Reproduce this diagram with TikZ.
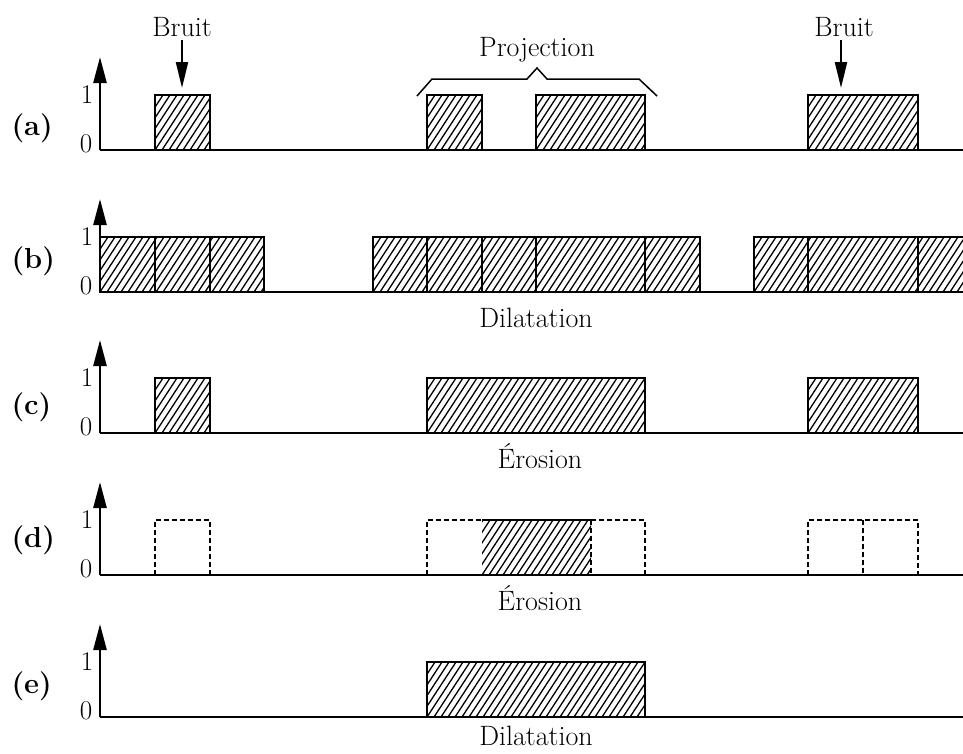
\documentclass[tikz,border=0pt]{standalone}
\usetikzlibrary{arrows.meta}
\newcommand{\hatchrect}[4]{%
  \begin{scope}
    \clip (#1,#3) rectangle (#2,#4);
    \foreach \k in {-7,...,52}{\draw[hatchline] ({#1+7*\k},#4) -- ++(36,-55);}
  \end{scope}}
\begin{document}
\begin{tikzpicture}[x=1pt,y=-1pt,
  axis/.style={line width=2.6pt,-{Triangle[width=13pt,length=26pt]}},
  baseline/.style={line width=2pt},
  boxline/.style={line width=2pt},
  dboxline/.style={line width=1.6pt,dash pattern=on 5pt off 3pt},
  hatchline/.style={line width=1.3pt},
  noisearrow/.style={line width=2.2pt,-{Triangle[width=12pt,length=26pt]}},
  lbl/.style={font=\fontsize{28}{32}\selectfont},
  plbl/.style={font=\fontsize{29}{33}\selectfont\bfseries},
  num/.style={font=\fontsize{27}{30}\selectfont,anchor=base}]
\useasboundingbox (0,0) rectangle (963,753);

% ---------- (a) ----------
\node[plbl,anchor=west] (pa) at (8,128) {(a)};
\node[num] (a1) at (87,103) {1};
\node[num] (a0) at (86,152) {0};
\hatchrect{155}{210}{95}{150}
\hatchrect{427}{482}{95}{150}
\hatchrect{536}{645}{95}{150}
\hatchrect{808}{918}{95}{150}
\draw[boxline] (155,150) rectangle (210,95);
\draw[boxline] (427,150) rectangle (482,95);
\draw[boxline] (536,150) rectangle (645,95);
\draw[boxline] (808,150) rectangle (918,95);
\draw[baseline] (100,150) -- (963,150);
\draw[axis] (100,150) -- (100,57);
\node[lbl,anchor=base] (bruit1) at (182,36) {Bruit};
\coordinate (b1tip) at (182,88);
\draw[noisearrow] (bruit1.south) -- (b1tip);
\node[lbl,anchor=base] (bruit2) at (844,36) {Bruit};
\coordinate (b2tip) at (841,88);
\draw[noisearrow] (bruit2.south -| b2tip) -- (b2tip);
\node[lbl,anchor=base] (proj) at (537,56) {Projection};
\draw[line width=1.5pt] (417,96) -- (432,79) -- (527,79) -- (537,68) -- (547,79) -- (639,79) -- (657,96);

% ---------- (b) ----------
\node[plbl,anchor=west] (pb) at (8,261) {(b)};
\node[num] (b1) at (87,245) {1};
\node[num] (b0) at (86,294) {0};
\hatchrect{100}{264}{237}{292}
\hatchrect{373}{700}{237}{292}
\hatchrect{754}{963}{237}{292}
\draw[boxline] (100,292) rectangle (264,237);
\draw[boxline] (155,237) -- (155,292) (210,237) -- (210,292);
\draw[boxline] (373,292) rectangle (700,237);
\draw[boxline] (427,237) -- (427,292) (482,237) -- (482,292) (536,237) -- (536,292) (645,237) -- (645,292);
\draw[boxline] (963,237) -- (754,237) -- (754,292) -- (963,292);
\draw[boxline] (808,237) -- (808,292) (918,237) -- (918,292);
\draw[baseline] (100,292) -- (963,292);
\draw[axis] (100,292) -- (100,199);
\node[lbl,anchor=base] (dil1) at (536,327) {Dilatation};

% ---------- (c) ----------
\node[plbl,anchor=west] (pc) at (8,407) {(c)};
\node[num] (c1) at (87,386) {1};
\node[num] (c0) at (86,435) {0};
\hatchrect{155}{210}{378}{433}
\hatchrect{427}{645}{378}{433}
\hatchrect{808}{918}{378}{433}
\draw[boxline] (155,433) rectangle (210,378);
\draw[boxline] (427,433) rectangle (645,378);
\draw[boxline] (808,433) rectangle (918,378);
\draw[baseline] (100,433) -- (963,433);
\draw[axis] (100,433) -- (100,340);
\node[lbl,anchor=base] (ero1) at (540,468) {\'Erosion};

% ---------- (d) ----------
\node[plbl,anchor=west] (pd) at (8,540) {(d)};
\node[num] (d1) at (87,528) {1};
\node[num] (d0) at (86,577) {0};
\hatchrect{482}{591}{520}{575}
\draw[dboxline] (155,575) -- (155,520) -- (210,520) -- (210,575);
\draw[dboxline] (427,575) -- (427,520) -- (482,520);
\draw[boxline] (482,520) -- (591,520);
\draw[dboxline] (591,520) -- (645,520) -- (645,575);
\draw[dboxline] (591,520) -- (591,575);
\draw[dboxline] (808,575) -- (808,520) -- (918,520) -- (918,575);
\draw[dboxline] (863,520) -- (863,575);
\draw[baseline] (100,575) -- (963,575);
\draw[axis] (100,575) -- (100,482);
\node[lbl,anchor=base] (ero2) at (540,610) {\'Erosion};

% ---------- (e) ----------
\node[plbl,anchor=west] (pe) at (8,686) {(e)};
\node[num] (e1) at (87,670) {1};
\node[num] (e0) at (86,719) {0};
\hatchrect{427}{645}{662}{717}
\draw[boxline] (427,717) rectangle (645,662);
\draw[baseline] (100,717) -- (963,717);
\draw[axis] (100,717) -- (100,624);
\node[lbl,anchor=base] (dil2) at (536,745) {Dilatation};
\end{tikzpicture}
\end{document}
